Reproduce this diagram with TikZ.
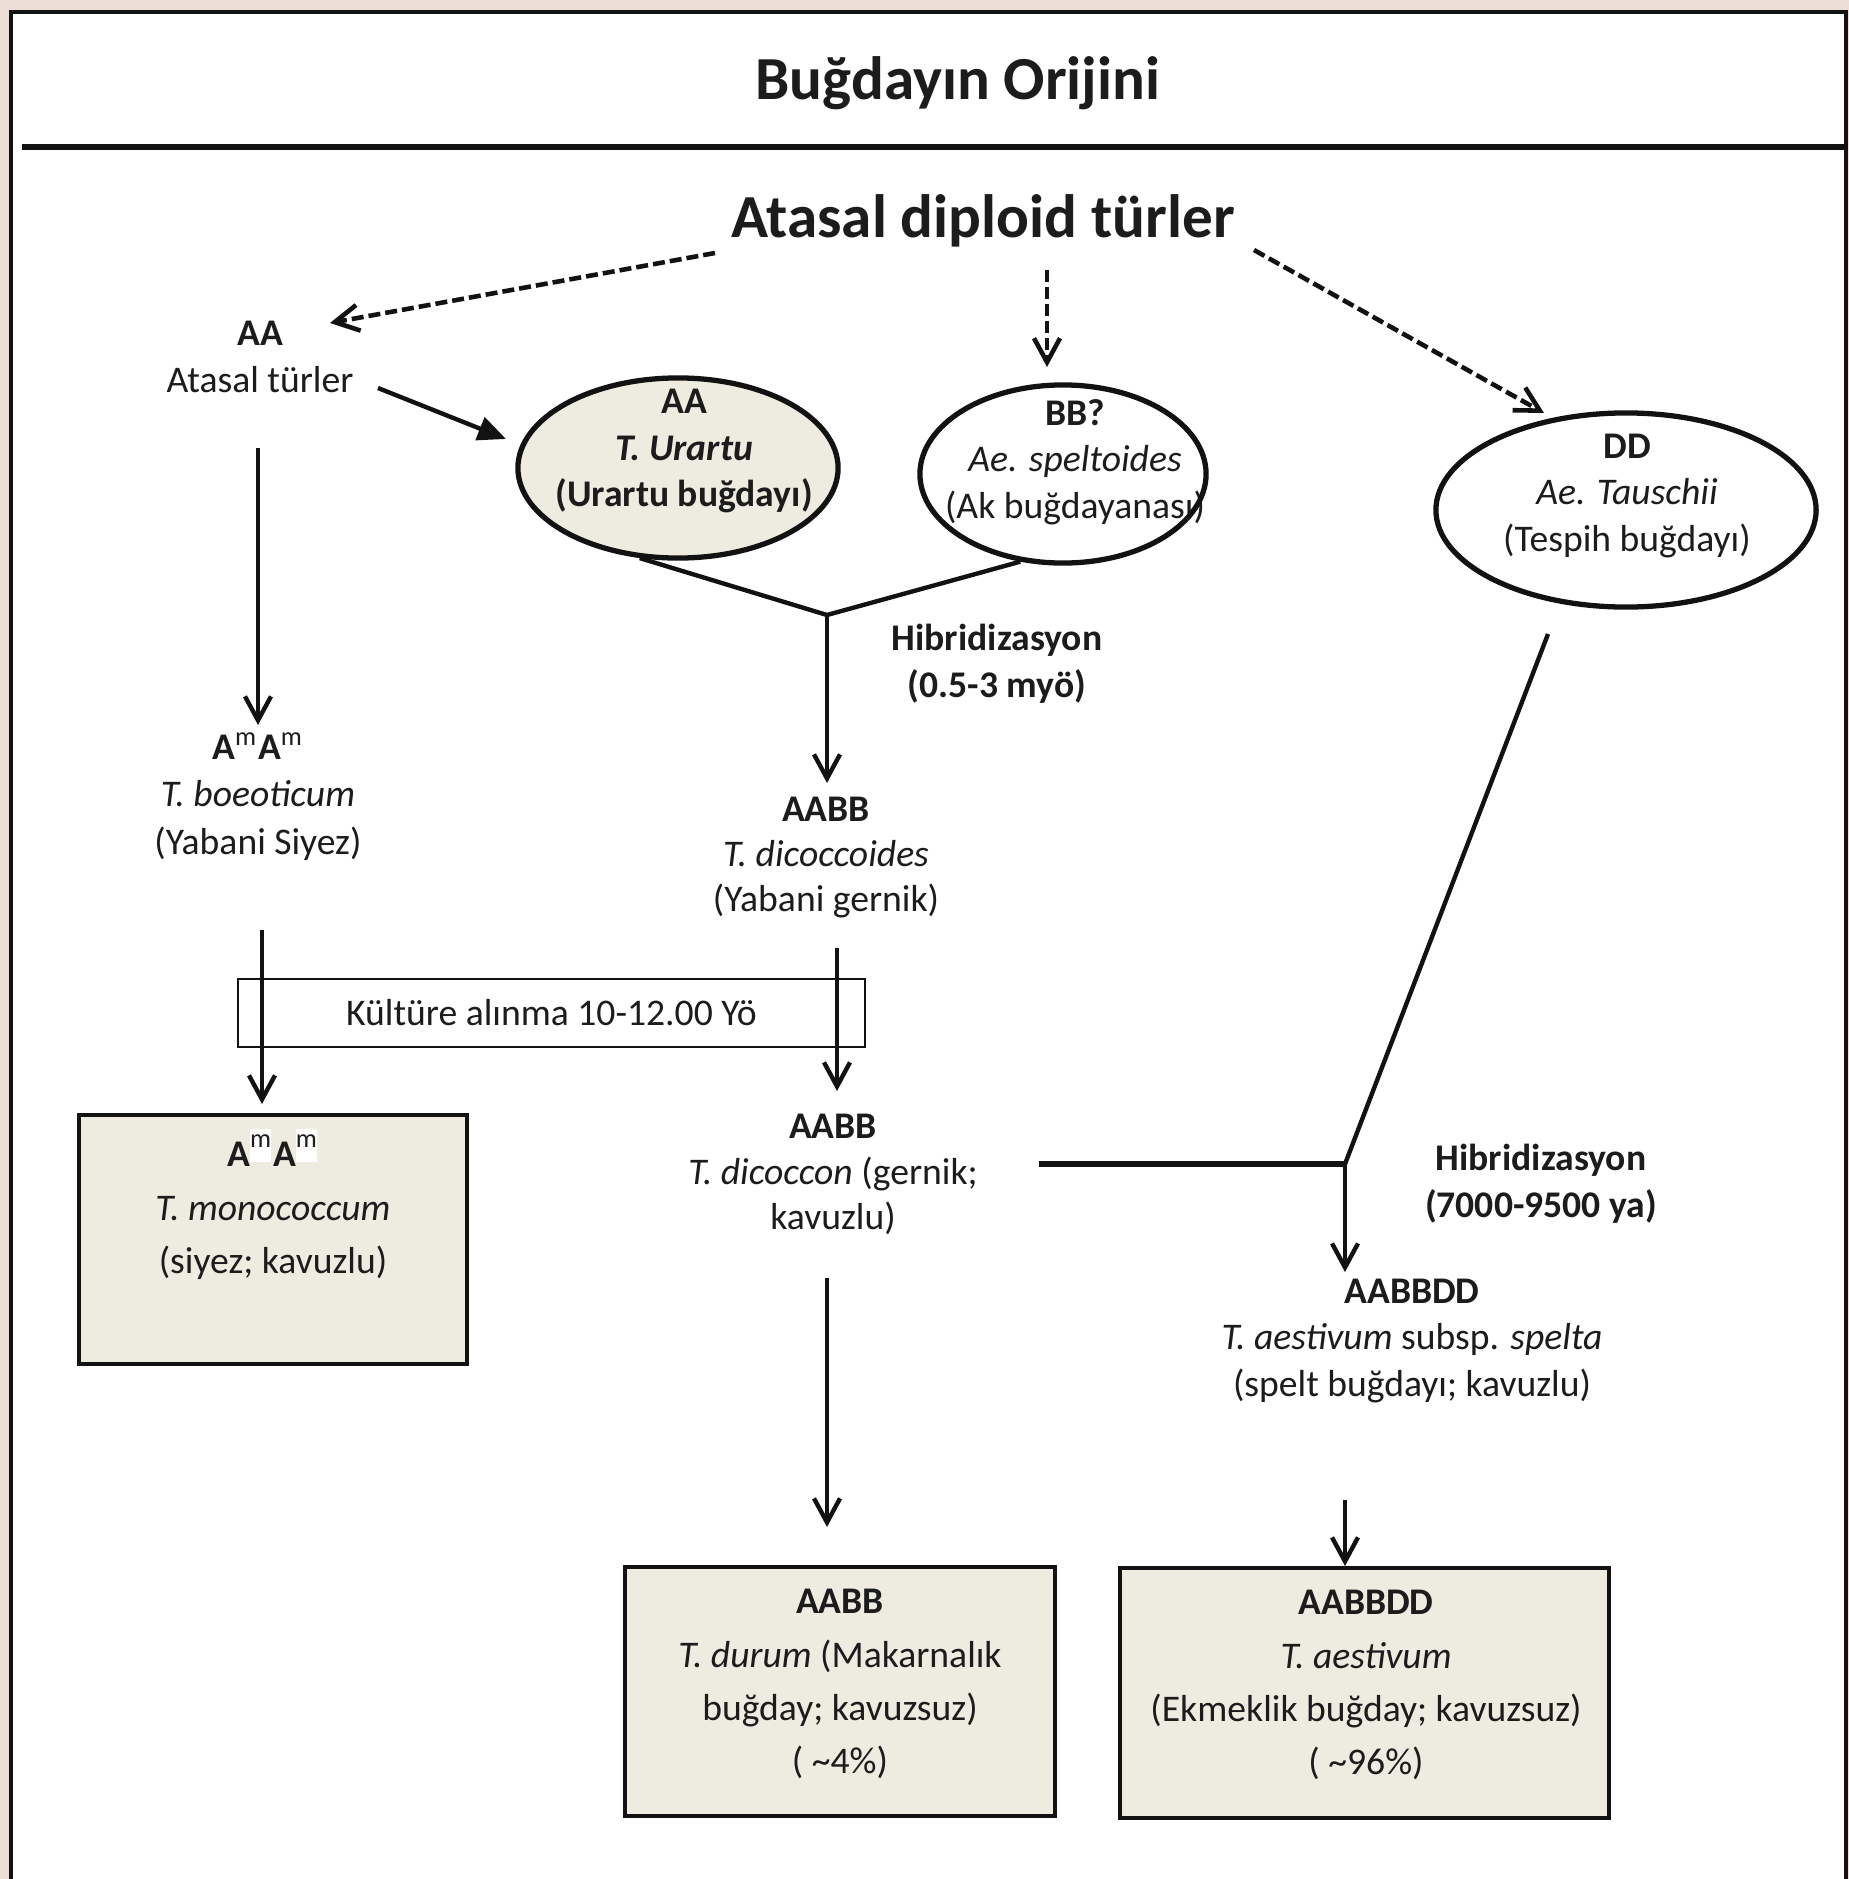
\documentclass[tikz,border=0pt]{standalone}
\usepackage{fontspec}
\setmainfont{Carlito}
\usetikzlibrary{arrows.meta,shapes.geometric}
\definecolor{bgc}{RGB}{236,222,214}
\definecolor{beige}{RGB}{238,236,225}
\definecolor{tc}{RGB}{28,28,28}
\definecolor{lc}{RGB}{18,18,18}
\newcommand\supm{\textsuperscript{\normalfont m}}
\newcommand\supw{\textsuperscript{{\setlength{\fboxsep}{0pt}\colorbox{white}{\normalfont m\rule[-0.55em]{0pt}{1.25em}}}}}
\begin{document}
\begin{tikzpicture}[x=0.01cm,y=-0.01cm,
  txt/.style={align=center,inner sep=0pt,text=tc,font=\fontsize{10.7}{13.2}\selectfont},
  boxtxt/.style={align=center,inner sep=0pt,text=tc,font=\fontsize{10.7}{15.1}\selectfont},
  big/.style={inner sep=0pt,text=tc,font=\bfseries\fontsize{17.4}{20}\selectfont},
  ell/.style={ellipse,draw=lc,line width=1.5pt,inner sep=0pt},
  fbox/.style={rectangle,draw=lc,line width=1.1pt,fill=beige,inner sep=0pt},
  conn/.style={line width=1.25pt,draw=lc},
  arr/.style={conn,-{Straight Barb[length=0.24cm,width=0.26cm]}},
  darr/.style={arr,line width=1.3pt,dash pattern=on 0.12cm off 0.05cm},
  tarr/.style={conn,-{Triangle[length=0.28cm,width=0.24cm]}}]
\useasboundingbox (0,0) rectangle (1849,1879);
\clip (0,0) rectangle (1849,1879);
\fill[bgc] (0,0) rectangle (1849,1879);
\draw[fill=white,draw=lc,line width=1.2pt] (11,12) rectangle (1846,1920);
\draw[lc,line width=1.7pt] (22,147) -- (1846,147);

% headings
\node[big] (title) at (958,83) {Buğdayın Orijini};
\node[big] (anc) at (983,221) {Atasal diploid türler};

% free coordinates for connector ends
\coordinate (d1s) at (715,253);
\coordinate (d1e) at (330,323);
\coordinate (d2s) at (1047,270);
\coordinate (d2e) at (1047,367);
\coordinate (d3s) at (1254,250);
\coordinate (d3e) at (1544,413);
\coordinate (ts) at (378,388);
\coordinate (te) at (506,439);
\coordinate (l1s) at (258,448);
\coordinate (l1e) at (258,725);
\coordinate (hy1) at (827,615);
\coordinate (m1e) at (827,783);
\coordinate (l2s) at (262,930);
\coordinate (l2e) at (262,1104);
\coordinate (m2s) at (837,948);
\coordinate (m2e) at (837,1091);
\coordinate (m3s) at (827,1278);
\coordinate (m3e) at (827,1527);
\coordinate (ddfoot) at (1548,634);
\coordinate (hy2) at (1345,1164);
\coordinate (hl) at (1039,1164);
\coordinate (r1e) at (1345,1272);
\coordinate (r2s) at (1345,1500);

% left ancestor
\node[txt,font=\fontsize{10.7}{13.4}\selectfont] (aa) at (260,356.5) {{\bfseries AA}\\Atasal türler};

% ellipses
\node[ell,fill=beige,minimum width=3.2cm,minimum height=1.8cm] (urartu) at (678,468) {};
\node[txt,font=\bfseries\fontsize{10.7}{13.1}\selectfont] (urartuT) at (684,451) {AA\\\textit{T. Urartu}\\(Urartu buğdayı)};
\node[txt] (bbT) at (1075,462) {{\bfseries BB?}\\\textit{Ae. speltoides}\\(Ak buğdayanası)};
\node[ell,minimum width=2.86cm,minimum height=1.78cm] (bb) at (1063,474) {};
\node[txt] (ddT) at (1627,496) {{\bfseries DD}\\\textit{Ae. Tauschii}\\(Tespih buğdayı)};
\node[ell,minimum width=3.8cm,minimum height=1.94cm] (dd) at (1626,510) {};

% hybridization labels
\node[txt,font=\bfseries\fontsize{10.7}{13.3}\selectfont] (hyb1) at (997,663.5) {Hibridizasyon\\(0.5-3 myö)};
\node[txt,font=\bfseries\fontsize{10.7}{13.5}\selectfont] (hyb2) at (1541,1184) {Hibridizasyon\\(7000-9500 ya)};

% intermediate species
\node[txt,font=\fontsize{10.7}{13.5}\selectfont] (boeo) at (258,796.5) {{\bfseries A\supm A\supm}\\\textit{T. boeoticum}\\(Yabani Siyez)};
\node[txt,font=\fontsize{10.7}{12.9}\selectfont] (dicoides) at (826,857.5) {{\bfseries AABB}\\\textit{T. dicoccoides}\\(Yabani gernik)};
\node[txt,font=\fontsize{10.7}{13}\selectfont] (dicoccon) at (833,1174.5) {{\bfseries AABB}\\\textit{T. dicoccon} (gernik;\\kavuzlu)};
\node[txt,font=\fontsize{10.7}{13.1}\selectfont] (spelta) at (1412,1341) {{\bfseries AABBDD}\\\textit{T. aestivum} subsp. \textit{spelta}\\(spelt buğdayı; kavuzlu)};

% domestication box
\node[rectangle,draw=lc,line width=0.6pt,fill=white,minimum width=6.27cm,minimum height=0.68cm,inner sep=0pt,text=tc,font=\fontsize{10.7}{13}\selectfont] (kult) at (551.5,1013) {\raisebox{-0.45ex}{Kültüre alınma 10-12.00 Yö}};

% final boxes
\node[fbox,minimum width=3.88cm,minimum height=2.49cm] (mono) at (273,1239.5) {};
\node[boxtxt,font=\fontsize{10.7}{15.2}\selectfont] (monoT) at (273,1204.5) {{\bfseries A\supw A\supw}\\\textit{T. monococcum}\\(siyez; kavuzlu)};
\node[fbox,minimum width=4.30cm,minimum height=2.49cm] (durum) at (840,1691.5) {};
\node[boxtxt] (durumT) at (840,1684) {{\bfseries AABB}\\\textit{T. durum} (Makarnalık\\buğday; kavuzsuz)\\(\ \textasciitilde4\%)};
\node[fbox,minimum width=4.89cm,minimum height=2.50cm] (aest) at (1364.5,1693) {};
\node[boxtxt] (aestT) at (1366,1685) {{\bfseries AABBDD}\\\textit{T. aestivum}\\(Ekmeklik buğday; kavuzsuz)\\(\ \textasciitilde96\%)};

% connectors
\draw[darr] (d1s) -- (d1e);
\draw[darr] (d2s) -- (d2e);
\draw[darr] (d3s) -- (d3e);
\draw[tarr] (ts) -- (te);
\draw[arr] (l1s) -- (l1e);
\draw[conn] (urartu.247) -- (hy1) -- (bb.244);
\draw[arr] (hy1) -- (m1e);
\draw[arr] (l2s) -- (l2e);
\draw[arr] (m2s) -- (m2e);
\draw[arr] (m3s) -- (m3e);
\draw[conn] (ddfoot) -- (hy2);
\draw[conn,line width=1.6pt] (hl) -- (hy2);
\draw[arr] (hy2) -- (r1e);
\draw[arr] (r2s) -- (r2s |- aest.north);
\end{tikzpicture}
\end{document}
